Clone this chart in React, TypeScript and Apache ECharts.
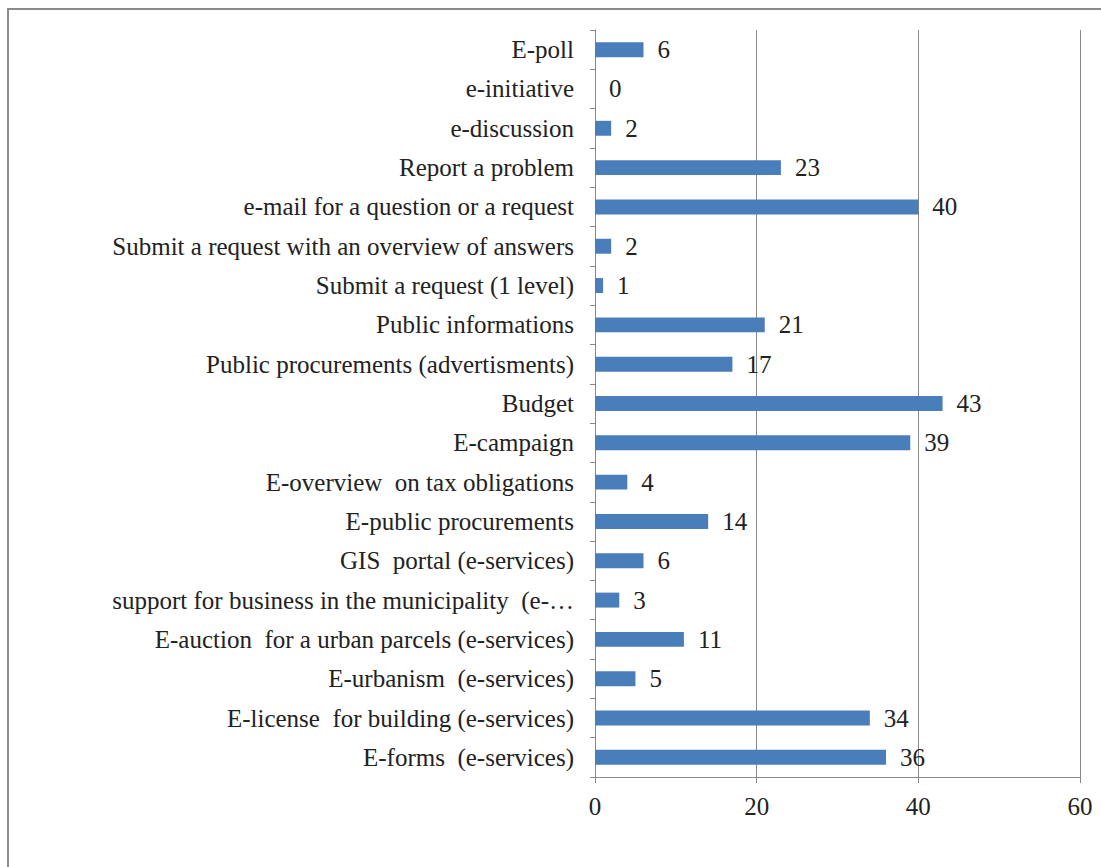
import React, { useEffect, useRef } from "react";
import * as echarts from "echarts";

const categories = [
  "E-forms  (e-services)",
  "E-license  for building (e-services)",
  "E-urbanism  (e-services)",
  "E-auction  for a urban parcels (e-services)",
  "support for business in the municipality  (e-…",
  "GIS  portal (e-services)",
  "E-public procurements",
  "E-overview  on tax obligations",
  "E-campaign",
  "Budget",
  "Public procurements (advertisments)",
  "Public informations",
  "Submit a request (1 level)",
  "Submit a request with an overview of answers",
  "e-mail for a question or a request",
  "Report a problem",
  "e-discussion",
  "e-initiative",
  "E-poll",
];
const values = [36, 34, 5, 11, 3, 6, 14, 4, 39, 43, 17, 21, 1, 2, 40, 23, 2, 0, 6];
const xTicks = [0, 20, 40, 60];

const FONT = "'Liberation Serif', 'Times New Roman', serif";

export default function App() {
  const ref = useRef<HTMLDivElement>(null);
  useEffect(() => {
    if (!ref.current) return;
    const chart = echarts.init(ref.current, undefined, { renderer: "svg" });
    chart.setOption({
      animation: false,
      backgroundColor: "#ffffff",
      graphic: [
        {
          type: "rect",
          shape: { x: 8, y: 9, width: 1200, height: 1000 },
          style: { fill: "none", stroke: "#8a8a8a", lineWidth: 2 },
          silent: true,
        },
      ],
      grid: { left: 595, right: 21, top: 30, bottom: 90, containLabel: false },
      xAxis: {
        type: "value",
        min: xTicks[0],
        max: xTicks[xTicks.length - 1],
        interval: 20,
        axisLine: { show: true, lineStyle: { color: "#888888", width: 1 } },
        axisTick: { show: true, length: 6, lineStyle: { color: "#888888" } },
        splitLine: { show: true, lineStyle: { color: "#888888", width: 1 } },
        axisLabel: {
          fontFamily: FONT,
          fontSize: 25,
          color: "#222222",
          margin: 17,
        },
      },
      yAxis: {
        type: "category",
        data: categories,
        axisLine: { show: true, lineStyle: { color: "#888888", width: 1 } },
        axisTick: { show: true, length: 5, lineStyle: { color: "#888888" } },
        axisLabel: {
          fontFamily: FONT,
          fontSize: 25,
          color: "#222222",
          margin: 21,
          interval: 0,
        },
      },
      series: [
        {
          type: "bar",
          data: values,
          barWidth: "38%",
          itemStyle: { color: "#4A7EBB" },
          label: {
            show: true,
            position: "right",
            distance: 14,
            fontFamily: FONT,
            fontSize: 25,
            color: "#222222",
          },
        },
      ],
    });
    return () => chart.dispose();
  }, []);
  return (
    <div
      ref={ref}
      style={{ position: "fixed", left: 0, top: 0, width: 1101, height: 867 }}
    />
  );
}
